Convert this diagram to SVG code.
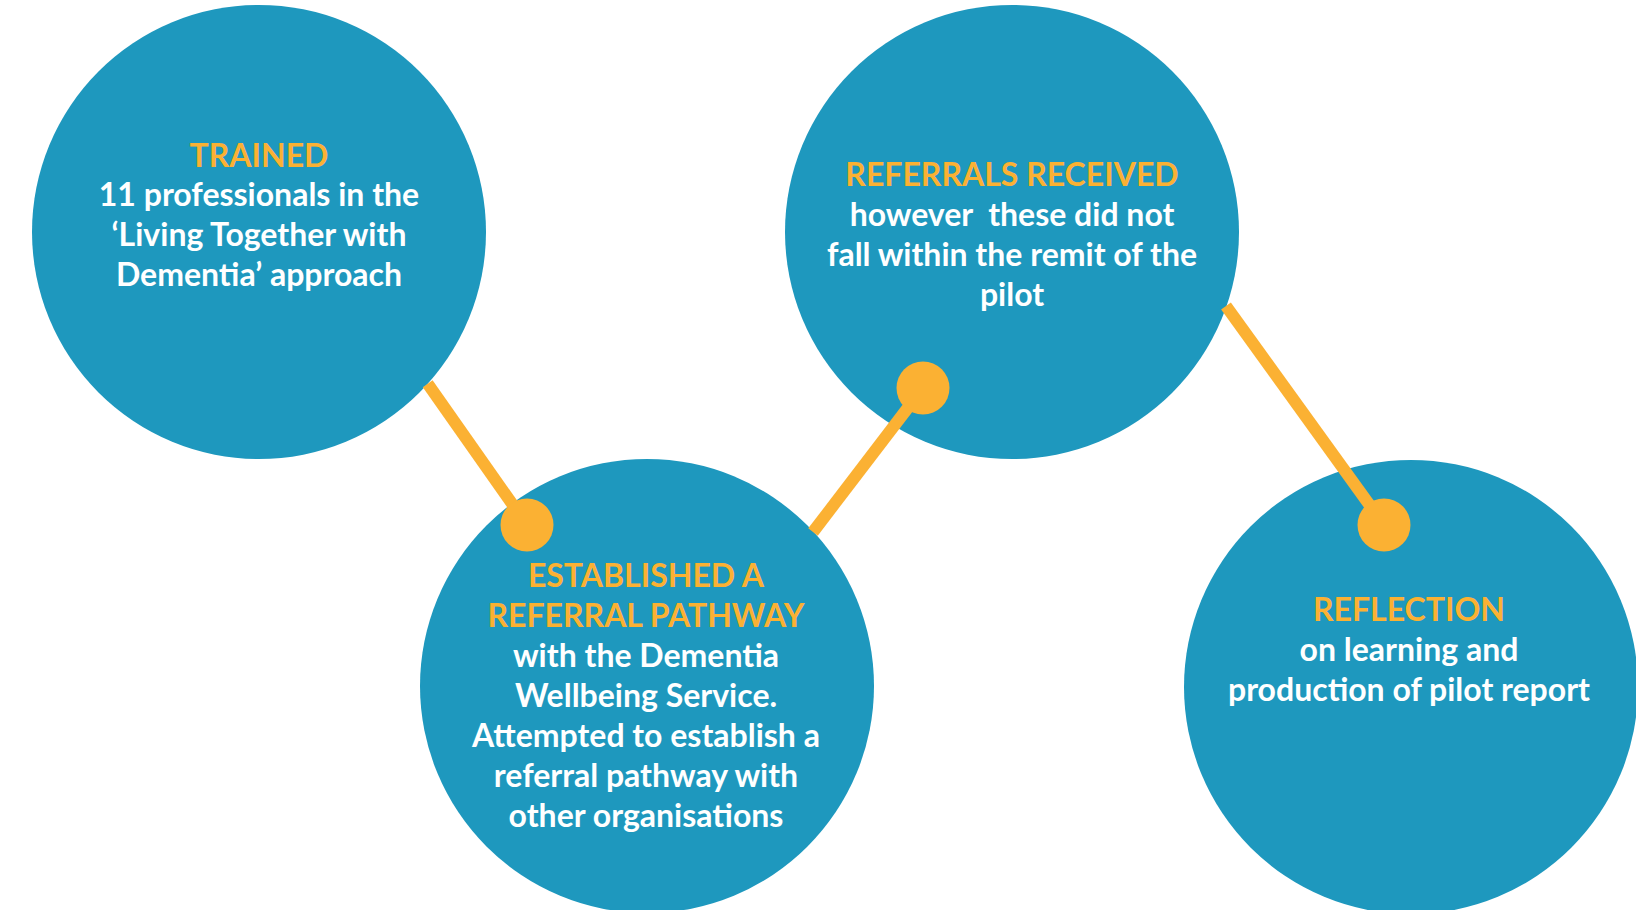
<svg xmlns="http://www.w3.org/2000/svg" width="1636" height="910" viewBox="0 0 1636 910">
  <style>
    .node { fill: #1E98BE; }
    .dot { fill: #FBB133; }
    .link { stroke: #FBB133; stroke-width: 12; fill: none; }
    text { font-family: Lato, "Open Sans", "Liberation Sans", sans-serif; font-weight: 700; font-size: 32px; text-anchor: middle; white-space: pre; }
    .title { fill: #FBB133; }
    .body { fill: #FFFFFF; }
  </style>
  <rect width="1636" height="910" fill="#FFFFFF"/>

  <g id="node-trained">
    <circle class="node" cx="259" cy="232" r="227"/>
    <text x="259" y="167" class="title">TRAINED</text>
    <text x="259" y="206" class="body">11 professionals in the</text>
    <text x="259" y="246" class="body">‘Living Together with</text>
    <text x="259" y="286" class="body">Dementia’ approach</text>
  </g>

  <g id="node-pathway">
    <circle class="node" cx="647" cy="686" r="227"/>
    <text x="646" y="587" class="title">ESTABLISHED A</text>
    <text x="646" y="627" class="title">REFERRAL PATHWAY</text>
    <text x="646" y="667" class="body">with the Dementia</text>
    <text x="646" y="707" class="body">Wellbeing Service.</text>
    <text x="646" y="747" class="body">Attempted to establish a</text>
    <text x="646" y="787" class="body">referral pathway with</text>
    <text x="646" y="827" class="body">other organisations</text>
  </g>

  <g id="node-referrals">
    <circle class="node" cx="1012" cy="232" r="227"/>
    <text x="1012" y="186" class="title">REFERRALS RECEIVED</text>
    <text x="1012" y="226" class="body">however  these did not</text>
    <text x="1012" y="266" class="body">fall within the remit of the</text>
    <text x="1012" y="306" class="body">pilot</text>
  </g>

  <g id="node-reflection">
    <circle class="node" cx="1411" cy="687" r="227"/>
    <text x="1409" y="621" class="title">REFLECTION</text>
    <text x="1409" y="661" class="body">on learning and</text>
    <text x="1409" y="701" class="body">production of pilot report</text>
  </g>

  <!-- connectors: each line leaves the edge of one circle and ends in a dot inside the next -->
  <g id="connectors">
    <line class="link" x1="427.7" y1="383.8" x2="527" y2="525"/>
    <circle class="dot" cx="527" cy="525" r="26.5"/>
    <line class="link" x1="813" y1="532" x2="923" y2="388"/>
    <circle class="dot" cx="923" cy="388" r="26.5"/>
    <line class="link" x1="1226" y1="306" x2="1384" y2="525"/>
    <circle class="dot" cx="1384" cy="525" r="26.5"/>
  </g>
</svg>
